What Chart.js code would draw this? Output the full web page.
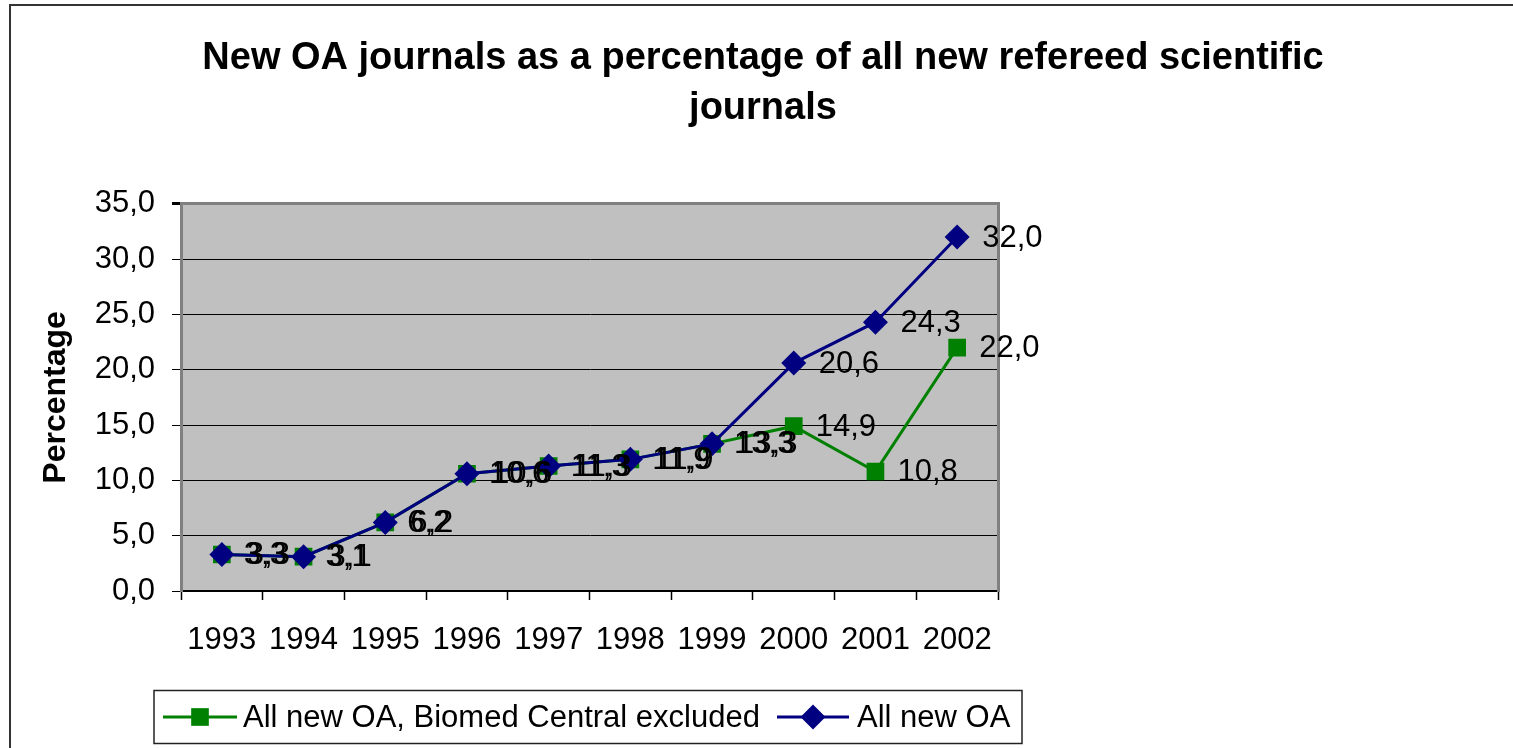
<!DOCTYPE html>
<html><head><meta charset="utf-8">
<script src="https://cdn.jsdelivr.net/npm/chart.js@4.4.1/dist/chart.umd.min.js"></script>
<style>html,body{margin:0;padding:0;background:#fff;overflow:hidden}#wrap{width:1513px;height:748px;position:relative}canvas{display:block}</style>
</head><body><div id="wrap"><canvas id="c" width="1513" height="748"></canvas></div>
<script>
const categories = ['1993','1994','1995','1996','1997','1998','1999','2000','2001','2002'];
const excludedBMC = [3.3, 3.1, 6.2, 10.6, 11.3, 11.9, 13.3, 14.9, 10.8, 22.0];
const allNewOA = [3.3, 3.1, 6.2, 10.6, 11.3, 11.9, 13.3, 20.6, 24.3, 32.0];
const yTickValues = [0, 5, 10, 15, 20, 25, 30, 35];
const seriesNames = ['All new OA, Biomed Central excluded', 'All new OA'];
const titleLines = ['New OA journals as a percentage of all new refereed scientific', 'journals'];
const yAxisTitle = 'Percentage';

const FONT = "'Liberation Sans', Arial, sans-serif";
const GREEN = '#008000', BLUE = '#000080';
const TXT = 31;
const fmt = v => v.toFixed(1).replace('.', ',');

Chart.defaults.color = '#000';
Chart.defaults.font.family = FONT;

const bgPlugin = {
  id: 'bg',
  beforeDraw(chart) {
    const {ctx, chartArea: a} = chart;
    ctx.save();
    ctx.fillStyle = '#fff';
    ctx.fillRect(0, 0, chart.width, chart.height);
    ctx.strokeStyle = '#333';
    ctx.lineWidth = 2;
    ctx.strokeRect(10, 5, chart.width + 20, chart.height + 20);
    ctx.fillStyle = '#C0C0C0';
    ctx.fillRect(a.left, a.top, a.right - a.left, a.bottom - a.top);
    ctx.restore();
  }
};

const labelPlugin = {
  id: 'vlabels',
  afterDatasetsDraw(chart) {
    const {ctx} = chart;
    ctx.save();
    ctx.font = TXT + 'px ' + FONT;
    ctx.fillStyle = '#000';
    ctx.textBaseline = 'middle';
    ctx.textAlign = 'left';
    chart.data.datasets.forEach((ds, di) => {
      const meta = chart.getDatasetMeta(di);
      const shift = ds.labelShift || 0;
      meta.data.forEach((pt, i) => {
        ctx.fillText(fmt(ds.data[i]), pt.x + 25 + shift, pt.y + 1);
      });
    });
    ctx.restore();
  }
};

const legendPlugin = {
  id: 'boxlegend',
  afterDraw(chart) {
    const {ctx} = chart;
    ctx.save();
    ctx.strokeStyle = '#222';
    ctx.lineWidth = 1.5;
    ctx.strokeRect(154, 690.5, 868, 53);
    const y = 717;
    const items = [
      {ds: chart.data.datasets[0], x0: 163, x1: 237, tx: 243},
      {ds: chart.data.datasets[1], x0: 777, x1: 849, tx: 857}
    ];
    ctx.font = TXT + 'px ' + FONT;
    ctx.textBaseline = 'middle';
    items.forEach(it => {
      ctx.strokeStyle = it.ds.borderColor;
      ctx.fillStyle = it.ds.borderColor;
      ctx.lineWidth = 3;
      ctx.beginPath(); ctx.moveTo(it.x0, y); ctx.lineTo(it.x1, y); ctx.stroke();
      Chart.helpers.drawPoint(ctx, {pointStyle: it.ds.pointStyle, radius: it.ds.pointRadius, borderWidth: 0, rotation: 0}, (it.x0 + it.x1) / 2, y);
      ctx.fillStyle = '#000';
      ctx.fillText(it.ds.label, it.tx, y + 1);
    });
    ctx.restore();
  }
};

new Chart(document.getElementById('c'), {
  type: 'line',
  data: {
    labels: categories,
    datasets: [
      {label: seriesNames[0], data: excludedBMC, borderColor: GREEN, backgroundColor: GREEN,
       pointBackgroundColor: GREEN, pointBorderColor: GREEN, borderWidth: 3, pointStyle: 'rect',
       pointRadius: 12.5, pointBorderWidth: 0, tension: 0, order: 1, labelShift: -3},
      {label: seriesNames[1], data: allNewOA, borderColor: BLUE, backgroundColor: BLUE,
       pointBackgroundColor: BLUE, pointBorderColor: BLUE, borderWidth: 3, pointStyle: 'rectRot',
       pointRadius: 12.5, pointBorderWidth: 0, tension: 0, order: 0, labelShift: 0}
    ]
  },
  options: {
    responsive: false,
    animation: false,
    devicePixelRatio: 1,
    layout: {padding: {left: 13, right: 0, top: 0, bottom: 97}},
    plugins: {
      legend: {display: false},
      tooltip: {enabled: false},
      title: {
        display: true, text: titleLines,
        font: {family: FONT, size: 38, weight: 'bold', lineHeight: 1.3},
        color: '#000',
        padding: {top: 34, bottom: 71}
      }
    },
    scales: {
      x: {
        type: 'category', offset: true,
        grid: {offset: true, drawOnChartArea: false, drawTicks: true, tickLength: 9, tickColor: '#000', tickWidth: 1.5, color: '#000'},
        border: {display: true, color: '#000', width: 2},
        ticks: {font: {family: FONT, size: TXT}, color: '#000', padding: 22, maxRotation: 0, autoSkip: false},
        afterFit(s) { s.height = 60; }
      },
      y: {
        type: 'linear', position: 'left', min: 0, max: 35,
        afterBuildTicks(s) { s.ticks = yTickValues.map(v => ({value: v})); },
        ticks: {font: {family: FONT, size: TXT}, color: '#000', padding: 17, callback: v => fmt(v)},
        grid: {
          drawTicks: true, tickLength: 9, tickColor: '#000',
          color: c => (c.tick && c.tick.value === 35) ? '#808080' : '#000',
          lineWidth: c => (c.tick && c.tick.value === 35) ? 3 : 1
        },
        border: {display: true, color: '#808080', width: 3},
        title: {display: true, text: yAxisTitle, font: {family: FONT, size: 32, weight: 'bold', lineHeight: 1.2}, color: '#000', padding: {top: 24, bottom: 0}},
        afterFit(s) { s.width = 168; }
      },
      y2: {
        type: 'linear', position: 'right', display: true,
        ticks: {display: false},
        grid: {display: false, drawTicks: false},
        border: {display: true, color: '#808080', width: 3},
        afterFit(s) { s.width = 515; }
      }
    }
  },
  plugins: [bgPlugin, labelPlugin, legendPlugin]
});
</script>
</body></html>
